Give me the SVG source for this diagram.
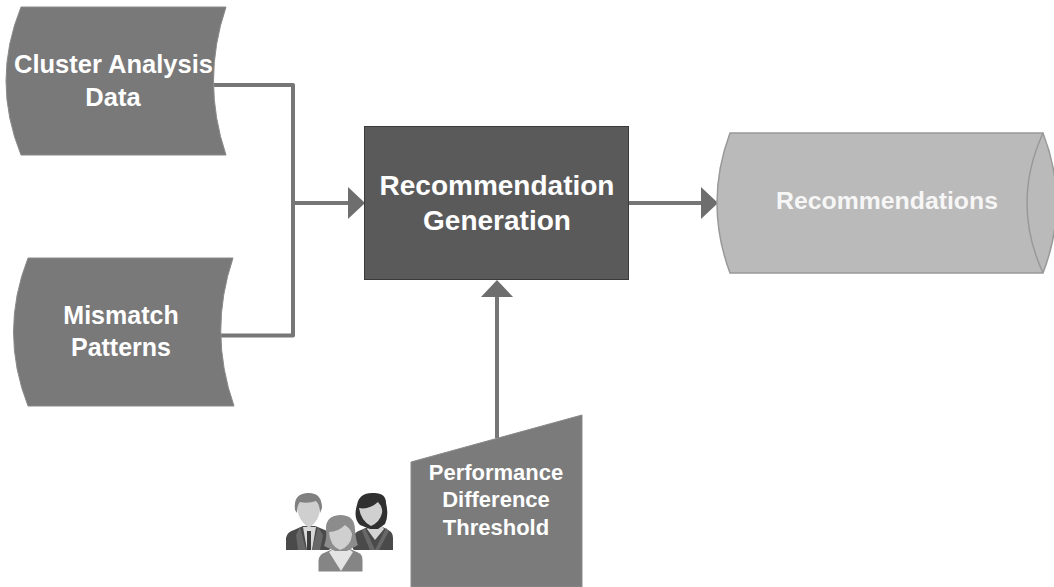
<svg xmlns="http://www.w3.org/2000/svg" width="1054" height="587" viewBox="0 0 1054 587">
<defs>
<style>
text{font-family:"Liberation Sans",Arial,sans-serif;font-weight:bold;fill:#fff;text-anchor:middle}
.data{fill:#797979;stroke:#8a8a8a;stroke-width:1}
.conn{fill:none;stroke:#767676;stroke-width:4;stroke-linejoin:round}
.head{fill:#6e6e6e}
</style>
</defs>
<rect width="1054" height="587" fill="#fff"/>
<g id="connectors">
<path class="conn" d="M214 85H293V335.500H220"/>
<path class="conn" d="M293 203H350"/>
<polygon class="head" points="348,187 365,203 348,219"/>
<path class="conn" d="M629 203H703"/>
<polygon class="head" points="701,187 718,203 701,219"/>
<path class="conn" d="M497 438V295"/>
<polygon class="head" points="481,297 497,280 513,297"/>
</g>
<g id="cluster-analysis-data">
<path class="data" d="M21 7H226Q201 81 226 155H21Q-9 81 21 7Z"/>
<text x="113.500" y="73" font-size="25.500">Cluster Analysis</text>
<text x="113" y="106" font-size="25.500">Data</text>
</g>
<g id="mismatch-patterns">
<path class="data" d="M28 258H233Q208 332 234 406H28Q-1 332 28 258Z"/>
<text x="121" y="324" font-size="25">Mismatch</text>
<text x="121" y="356" font-size="25">Patterns</text>
</g>
<g id="recommendation-generation">
<rect x="364.500" y="126.500" width="264" height="153" fill="#5a5a5a" stroke="#3a3a3a" stroke-width="1"/>
<text x="497" y="195" font-size="28">Recommendation</text>
<text x="497" y="230" font-size="28">Generation</text>
</g>
<g id="recommendations">
<path d="M730 133H1043Q1070 203 1043 273H730Q704 203 730 133Z" fill="#bababa" stroke="#999" stroke-width="1.500"/>
<path d="M1043 133Q1011 203 1043 273" fill="none" stroke="#999" stroke-width="1.500"/>
<text x="887" y="209" font-size="24.800" fill-opacity="0.9">Recommendations</text>
</g>
<g id="performance-difference-threshold">
<polygon points="411,462 582,415 582,587 411,587" fill="#7b7b7b" stroke="#8a8a8a" stroke-width="1"/>
<text x="496" y="480" font-size="22">Performance</text>
<text x="496" y="507" font-size="22">Difference</text>
<text x="496" y="535" font-size="22">Threshold</text>
</g>
<g id="people-icon">
<path d="M286 550V538Q287 532 294 530L303 526H315L325 530Q329 532 330 538V550Z" fill="#4a4a4a"/>
<path d="M303 527L307 550H312L316 527Z" fill="#d8d8d8"/>
<path d="M307 531H311L311 550H307Z" fill="#3c3c3c"/>
<path d="M300 527L306 550H298L296 535ZM318 527L312 550H320L323 535Z" fill="#686868"/>
<path d="M297 505Q298 500 303 501H316Q320 501 320 505Q321 520 309 528Q297 520 297 505Z" fill="#cfcfcf"/>
<path d="M295 510Q293 494 307 493Q322 492 322 508L320 513Q320 505 316 501Q308 504 300 502Q297 505 297 513Z" fill="#808080"/>
<path d="M353 550V538Q354 532 361 530L370 526H381L388 530Q393 532 393 538V550Z" fill="#4a4a4a"/>
<path d="M367 529L375 540L384 529L380 523H371Z" fill="#d4d4d4"/>
<path d="M365 528L375 550L386 528L389 531L379 550H370L362 531Z" fill="#686868"/>
<path d="M360 525Q353 518 357 505Q359 493 372 493Q386 492 386 503Q389 516 385 524L378 529H370Z" fill="#303030"/>
<path d="M359 508Q369 510 378 502Q383 507 382 513Q380 522 371 526Q361 521 359 508Z" fill="#d0d0d0"/>
<path d="M318 572V560Q319 554 325 552L334 548H349L358 552Q363 554 363 560V572Z" fill="#858585" stroke="#fff" stroke-width="1"/>
<path d="M329 552L341 571L353 552L347 548H335Z" fill="#e4e4e4"/>
<path d="M326 530Q325 516 340 515Q355 515 355 530Q356 541 358 545L347 551H335L324 546Q327 538 326 530Z" fill="#8c8c8c"/>
<path d="M329 532Q338 532 345 525Q352 530 352 535Q351 546 340 550Q330 546 329 532Z" fill="#cfcfcf"/>
</g>
</svg>
